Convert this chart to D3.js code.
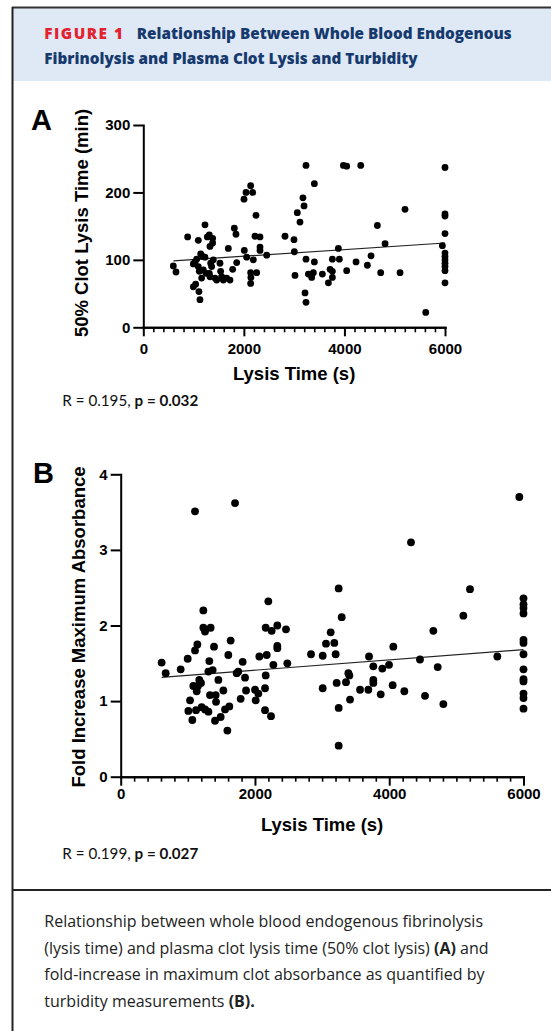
<!DOCTYPE html>
<html lang="en">
<head>
<meta charset="UTF-8">
<title>Figure 1 - Whole blood fibrinolysis vs plasma clot lysis and turbidity</title>
<script src="https://d3js.org/d3.v7.min.js"></script>
<style>
  body { margin: 0; background: #fff; }
  svg text { font-family: "Liberation Sans", Arial, sans-serif; }
  .axis text { font-weight: bold; font-size: 15px; fill: #000; font-family: "Liberation Sans", Arial, sans-serif; }
  .axis path, .axis line { stroke: #000; stroke-width: 2; }
  .axis path { stroke-linecap: square; }
  .minor line { stroke-width: 1.6; }
  .axis-title { font-weight: bold; font-size: 18.5px; fill: #000; }
  .panel-letter { font-weight: bold; font-size: 29px; fill: #000; }
  .head { font-family: "Open Sans", sans-serif; font-weight: 800; font-size: 15.3px; fill: #173a6e; }
  .stats { font-family: Lato, "Open Sans", sans-serif; font-size: 15.2px; fill: #111; }
  .caption { font-family: "Open Sans", sans-serif; font-size: 16px; fill: #222; }
</style>
</head>
<body>
<svg id="fig" width="551" height="1031"></svg>
<script>
// ---- data ----
const xTicks = [0, 2000, 4000, 6000];
const yTicksA = [0, 100, 200, 300];
const yTicksB = [0, 1, 2, 3, 4];

// panel A: lysis time (s) vs 50% clot lysis time (min)
const pointsA = [
  [597, 91], [650, 82], [882, 134], [995, 94], [1028, 97], [995, 60], [1041, 64], [1094, 129],
  [1107, 53], [1127, 41], [1061, 101], [1094, 90], [1114, 83], [1141, 109], [1160, 73], [1180, 105],
  [1194, 85], [1227, 152], [1227, 104], [1247, 80], [1273, 134], [1313, 137], [1326, 120], [1340, 95],
  [1359, 90], [1379, 132], [1393, 100], [1379, 125], [1313, 80], [1326, 75], [1426, 73], [1459, 70],
  [1525, 95], [1538, 83], [1558, 75], [1591, 70], [1658, 73], [1691, 117], [1724, 70], [1777, 86],
  [1810, 147], [1843, 138], [1857, 96],
  [2003, 190], [2043, 200], [2135, 210], [2175, 200], [2009, 114], [2056, 104], [2135, 81], [2140, 74],
  [2135, 65], [2188, 100], [2241, 166], [2221, 135], [2321, 134], [2254, 81], [2321, 119], [2321, 114],
  [2454, 107],
  [2818, 135], [2997, 130], [3004, 112], [3017, 77], [3063, 170], [3116, 156], [3175, 192], [3197, 180],
  [3236, 240], [3236, 101], [3216, 51], [3236, 37], [3283, 79], [3349, 74], [3382, 81], [3402, 213],
  [3402, 97], [3561, 79], [3681, 66], [3714, 86], [3760, 83], [3760, 74], [3760, 101], [3879, 117],
  [3899, 101],
  [3979, 240], [4045, 239], [4045, 84], [4231, 97], [4324, 240], [4456, 92], [4529, 106], [4655, 151],
  [4721, 81], [4808, 124], [5106, 81], [5205, 175], [5617, 22], [5948, 121],
  [6000, 237], [6000, 168], [6000, 165], [6000, 139], [6000, 110], [6000, 105], [6000, 100],
  [6000, 95], [6000, 90], [6000, 84], [6000, 66]
];
const fitA = [[600, 98.5], [6000, 125]];

// panel B: lysis time (s) vs fold increase maximum absorbance
const pointsB = [
  [610, 1.51], [670, 1.37], [893, 1.42], [998, 1.56], [1008, 0.87], [1033, 1.01], [1067, 0.75],
  [1107, 3.51], [1107, 1.67], [1142, 1.75], [1082, 1.20], [1132, 1.13], [1171, 1.28], [1196, 1.24],
  [1150, 1.20], [1122, 0.88], [1231, 2.20], [1231, 1.97], [1256, 1.92], [1340, 1.97], [1206, 0.92],
  [1256, 0.89], [1306, 0.86], [1320, 1.53], [1306, 1.39], [1330, 1.08], [1370, 1.41], [1390, 1.72],
  [1405, 0.74], [1420, 0.99], [1415, 1.08], [1455, 1.28], [1489, 0.79], [1529, 1.14], [1554, 0.89],
  [1603, 1.61], [1618, 0.93], [1589, 0.61], [1638, 1.80], [1703, 3.62], [1728, 1.37], [1752, 1.39],
  [1787, 1.03], [1817, 1.52], [1852, 1.31], [1867, 1.14], [2011, 1.01], [2001, 1.15], [2050, 1.10],
  [2065, 1.59], [2150, 0.88], [2150, 1.17], [2160, 1.34], [2175, 1.61], [2199, 2.32], [2160, 1.97],
  [2239, 0.80], [2249, 1.93], [2274, 1.48], [2333, 2.00], [2333, 1.73], [2333, 1.70], [2462, 1.95],
  [2482, 1.50],
  [2835, 1.62], [3009, 1.60], [3009, 1.17], [3058, 1.76], [3128, 1.91], [3182, 1.77], [3202, 1.62],
  [3217, 1.24], [3247, 2.49], [3247, 0.91], [3247, 0.41], [3292, 2.11], [3356, 1.25], [3391, 1.37],
  [3406, 1.34], [3416, 1.02], [3565, 1.15], [3689, 1.15], [3699, 1.59], [3763, 1.46], [3763, 1.28],
  [3763, 1.24], [3873, 1.09], [3897, 1.43], [3997, 1.48], [4051, 1.21], [4061, 1.72], [4225, 1.13],
  [4324, 3.10], [4458, 1.55], [4533, 1.07], [4657, 1.93], [4722, 1.45], [4806, 0.96], [5104, 2.13],
  [5203, 2.48], [5610, 1.59], [5938, 3.70],
  [6000, 2.36], [6000, 2.28], [6000, 2.23], [6000, 2.16], [6000, 1.81], [6000, 1.77], [6000, 1.62],
  [6000, 1.42], [6000, 1.29], [6000, 1.26], [6000, 1.10], [6000, 1.04], [6000, 0.90]
];
const fitB = [[610, 1.315], [6000, 1.68]];

const minorTicks = d3.range(200, 6000, 200).filter(v => v % 2000 !== 0);

const svg = d3.select("#fig");

// ---- frame + header ----
svg.append("rect").attr("x", 13).attr("y", 8).attr("width", 538).attr("height", 73).attr("fill", "#dfe9f5");
svg.append("line").attr("x1", 12).attr("x2", 551).attr("y1", 7.5).attr("y2", 7.5)
    .attr("stroke", "#333").attr("stroke-width", 2);
svg.append("line").attr("x1", 12.5).attr("x2", 12.5).attr("y1", 7).attr("y2", 1031)
    .attr("stroke", "#222").attr("stroke-width", 2);
svg.append("line").attr("x1", 12).attr("x2", 551).attr("y1", 890).attr("y2", 890)
    .attr("stroke", "#222").attr("stroke-width", 2);

const h1 = svg.append("text").attr("class", "head").attr("x", 44.3).attr("y", 39.3);
h1.append("tspan").attr("fill", "#e3212f").attr("letter-spacing", "1.5px").text("FIGURE 1");
h1.append("tspan").attr("x", 136.7).text("Relationship Between Whole Blood Endogenous");
svg.append("text").attr("class", "head").attr("x", 44.3).attr("y", 64)
    .text("Fibrinolysis and Plasma Clot Lysis and Turbidity");

// ---- panels ----
function drawPanel(cfg) {
    const x = d3.scaleLinear().domain([0, 6000]).range(cfg.xRange);
    const y = d3.scaleLinear().domain(cfg.yDomain).range(cfg.yRange);
    const y0 = cfg.yRange[0];

    svg.append("g").attr("class", "axis minor")
        .attr("transform", `translate(0,${y0})`)
        .call(d3.axisBottom(x).tickValues(minorTicks).tickSize(5).tickSizeOuter(0).tickFormat(""));

    svg.append("g").attr("class", "axis")
        .attr("transform", `translate(0,${y0})`)
        .call(d3.axisBottom(x).tickValues(xTicks).tickSize(9).tickSizeOuter(0)
            .tickPadding(cfg.xPad).tickFormat(d3.format("d")));

    svg.append("g").attr("class", "axis")
        .attr("transform", `translate(${cfg.xRange[0]},0)`)
        .call(d3.axisLeft(y).tickValues(cfg.yTicks).tickSize(10).tickSizeOuter(0)
            .tickPadding(3).tickFormat(d3.format("d")));

    svg.append("line")
        .attr("x1", x(cfg.fit[0][0])).attr("y1", y(cfg.fit[0][1]))
        .attr("x2", x(cfg.fit[1][0])).attr("y2", y(cfg.fit[1][1]))
        .attr("stroke", "#222").attr("stroke-width", 1.2);

    svg.append("g").selectAll("circle")
        .data(cfg.points)
        .enter()
        .append("circle")
        .attr("cx", d => x(d[0]))
        .attr("cy", d => y(d[1]))
        .attr("r", cfg.r)
        .attr("fill", "#000");

    svg.append("text").attr("class", "axis-title")
        .attr("text-anchor", "middle")
        .attr("x", (cfg.xRange[0] + cfg.xRange[1]) / 2)
        .attr("y", cfg.xTitleY)
        .text("Lysis Time (s)");

    svg.append("text").attr("class", "axis-title")
        .attr("text-anchor", "middle")
        .attr("transform", `translate(${cfg.yTitleX},${cfg.yTitleY}) rotate(-90)`)
        .text(cfg.yTitle);

    svg.append("text").attr("class", "panel-letter")
        .attr("x", cfg.letterX).attr("y", cfg.letterY)
        .text(cfg.letter);

    const st = svg.append("text").attr("class", "stats").attr("x", 62.3).attr("y", cfg.statsY);
    st.append("tspan").text(cfg.stats[0]);
    st.append("tspan").attr("font-weight", "bold").text(cfg.stats[1]);
}

drawPanel({
    letter: "A", letterX: 31, letterY: 130,
    xRange: [143.3, 445], yDomain: [0, 300], yRange: [327.3, 125], yTicks: yTicksA,
    xPad: 7, xTitleY: 380, yTitle: "50% Clot Lysis Time (min)", yTitleX: 88, yTitleY: 223,
    points: pointsA, fit: fitA, r: 3.4,
    statsY: 405.7, stats: ["R = 0.195, ", "p = 0.032"]
});

drawPanel({
    letter: "B", letterX: 33, letterY: 483,
    xRange: [120.7, 523.5], yDomain: [0, 4], yRange: [776.7, 474.3], yTicks: yTicksB,
    xPad: 3, xTitleY: 831, yTitle: "Fold Increase Maximum Absorbance", yTitleX: 85, yTitleY: 627,
    points: pointsB, fit: fitB, r: 3.9,
    statsY: 858.5, stats: ["R = 0.199, ", "p = 0.027"]
});

// ---- caption ----
const captionLines = [
    [["Relationship between whole blood endogenous fibrinolysis", false]],
    [["(lysis time) and plasma clot lysis time (50% clot lysis) ", false], ["(A)", true], [" and", false]],
    [["fold-increase in maximum clot absorbance as quantified by", false]],
    [["turbidity measurements ", false], ["(B).", true]]
];
captionLines.forEach((parts, i) => {
    const t = svg.append("text").attr("class", "caption").attr("x", 44.3).attr("y", 927.3 + i * 26.5);
    parts.forEach(p => t.append("tspan").attr("font-weight", p[1] ? "bold" : null).text(p[0]));
});
</script>
</body>
</html>
